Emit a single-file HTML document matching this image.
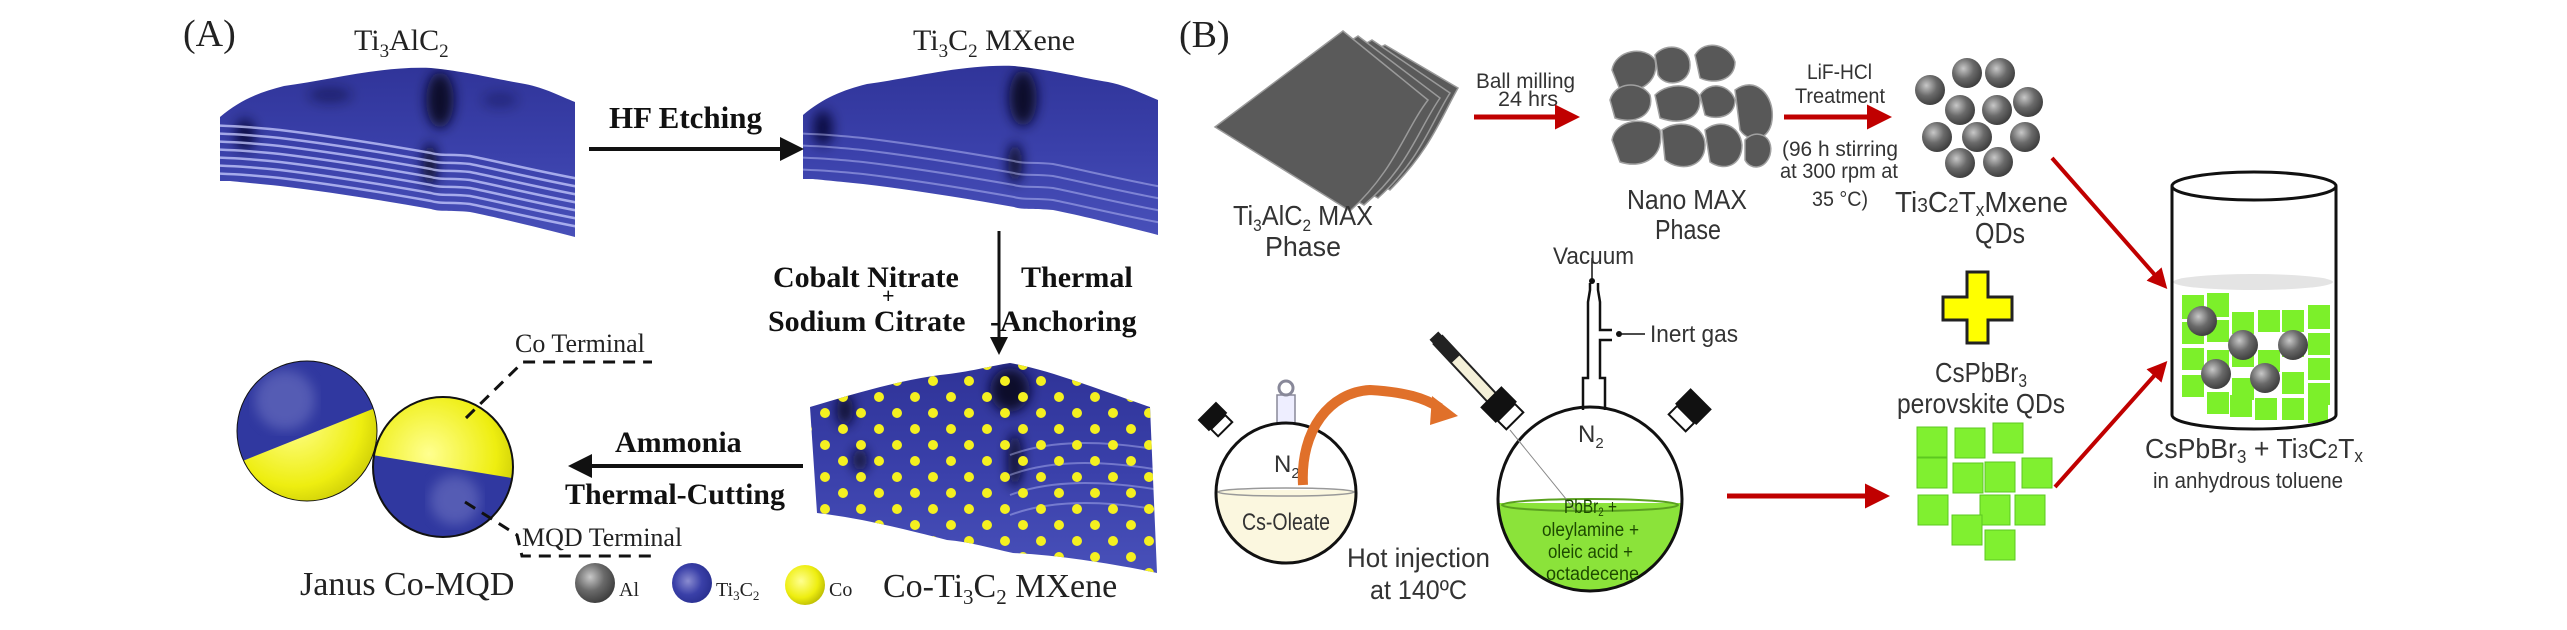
<!DOCTYPE html>
<html><head><meta charset="utf-8"><style>
html,body{margin:0;padding:0;background:#fff;}
svg{display:block}
.se{font-family:"Liberation Serif",serif;fill:#222}
.sb{font-family:"Liberation Serif",serif;font-weight:bold;fill:#111}
.sa{font-family:"Liberation Sans",sans-serif;fill:#333}
</style></head><body>
<svg width="2567" height="630" viewBox="0 0 2567 630" xmlns="http://www.w3.org/2000/svg">
<defs>
<linearGradient id="slab" x1="0" y1="0" x2="0" y2="1">
<stop offset="0" stop-color="#2e3296"/><stop offset="0.5" stop-color="#3a40aa"/><stop offset="1" stop-color="#4a52bb"/></linearGradient>
<filter id="blur"><feGaussianBlur stdDeviation="6"/></filter>
<radialGradient id="gray" cx="0.38" cy="0.35" r="0.7"><stop offset="0" stop-color="#c8c8c8"/><stop offset="0.5" stop-color="#6a6a6a"/><stop offset="1" stop-color="#3a3a3a"/></radialGradient>
<radialGradient id="blue" cx="0.4" cy="0.45" r="0.7"><stop offset="0" stop-color="#8a8cd0"/><stop offset="0.5" stop-color="#3a40a8"/><stop offset="1" stop-color="#232a88"/></radialGradient>
<radialGradient id="yel" cx="0.4" cy="0.4" r="0.7"><stop offset="0" stop-color="#ffff90"/><stop offset="0.6" stop-color="#eeee10"/><stop offset="1" stop-color="#b0b000"/></radialGradient>
<pattern id="dots" width="36" height="32" patternUnits="userSpaceOnUse" x="5" y="3">
<circle cx="10" cy="10" r="5" fill="#f4f020"/><circle cx="28" cy="26" r="5" fill="#f4f020"/></pattern>
<clipPath id="c1"><path id="p1" d="M220,117 C240,100 260,92 284,86 C330,80 380,66 431,68 C470,72 500,80 525,84 C545,88 560,96 575,102 L575,237 C540,228 500,218 470,212 C450,210 440,212 431,209 C380,200 330,192 280,186 C260,184 240,182 230,181 L220,181 Z"/></clipPath>
<clipPath id="c3"><path d="M810,407 C850,395 900,380 940,375 C970,372 990,366 1010,363 C1050,370 1100,390 1150,407 L1157,573 C1120,565 1060,555 1013,553 C990,548 970,542 947,540 C900,528 860,518 817,513 Z"/></clipPath>
<path id="bot" d="M200,181 C240,182 260,184 280,186 C330,192 380,200 431,209 C440,212 450,210 470,212 C500,218 540,228 590,237" fill="none"/>
<marker id="ah" markerWidth="6" markerHeight="6" refX="5" refY="3" orient="auto"><path d="M0,0 L6,3 L0,6 Z" fill="#111"/></marker>
<marker id="ar" markerWidth="5" markerHeight="5" refX="3" refY="2.5" orient="auto"><path d="M0,0 L5,2.5 L0,5 Z" fill="#c00000"/></marker>
</defs>

<!-- Panel A labels -->
<text x="183" y="46" class="se" font-size="38">(A)</text>
<text x="354" y="50" class="se" font-size="30">Ti<tspan font-size="19" dy="7">3</tspan><tspan dy="-7">AlC</tspan><tspan font-size="19" dy="7">2</tspan></text>
<text x="913" y="50" class="se" font-size="30">Ti<tspan font-size="19" dy="7">3</tspan><tspan dy="-7">C</tspan><tspan font-size="19" dy="7">2</tspan><tspan dy="-7"> MXene</tspan></text>

<!-- Slab 1 -->
<g clip-path="url(#c1)">
<rect x="200" y="50" width="400" height="200" fill="url(#slab)"/>
<g filter="url(#blur)" fill="#08082a">
<ellipse cx="245" cy="135" rx="10" ry="16" opacity="0.8"/><ellipse cx="440" cy="100" rx="14" ry="28"/><ellipse cx="430" cy="165" rx="7" ry="22"/><ellipse cx="330" cy="95" rx="22" ry="8" opacity="0.4"/><ellipse cx="500" cy="100" rx="18" ry="8" opacity="0.3"/>
</g>
<g stroke="#c8ccff" stroke-opacity="0.75" stroke-width="2.5">
<use href="#bot" transform="translate(0,-8)"/><use href="#bot" transform="translate(0,-16)"/><use href="#bot" transform="translate(0,-24)"/><use href="#bot" transform="translate(0,-32)"/><use href="#bot" transform="translate(0,-40)"/><use href="#bot" transform="translate(0,-48)"/><use href="#bot" transform="translate(0,-56)"/>
</g>
</g>
<!-- Slab 2 -->
<g transform="translate(583,-2)">
<g clip-path="url(#c1)">
<rect x="200" y="50" width="400" height="200" fill="url(#slab)"/>
<g filter="url(#blur)" fill="#08082a">
<ellipse cx="240" cy="130" rx="10" ry="18" opacity="0.8"/><ellipse cx="440" cy="100" rx="14" ry="28"/><ellipse cx="432" cy="165" rx="7" ry="20"/>
</g>
<g stroke="#c8ccff" stroke-opacity="0.45" stroke-width="2">
<use href="#bot" transform="translate(0,-10)"/><use href="#bot" transform="translate(0,-22)"/><use href="#bot" transform="translate(0,-34)"/><use href="#bot" transform="translate(0,-46)"/>
</g>
</g>
</g>

<!-- HF etching -->
<text x="609" y="128" class="sb" font-size="31">HF Etching</text>
<line x1="589" y1="149" x2="800" y2="149" stroke="#111" stroke-width="4" marker-end="url(#ah)"/>

<!-- vertical arrow -->
<line x1="999" y1="231" x2="999" y2="352" stroke="#111" stroke-width="3" marker-end="url(#ah)"/>
<text x="773" y="287" class="sb" font-size="30">Cobalt Nitrate</text>
<text x="1021" y="287" class="sb" font-size="30">Thermal</text>
<text x="882" y="303" class="sb" font-size="22">+</text>
<text x="768" y="331" class="sb" font-size="30">Sodium Citrate</text>
<text x="990" y="331" class="sb" font-size="30">-Anchoring</text>

<!-- Slab 3 -->
<g clip-path="url(#c3)">
<rect x="800" y="355" width="370" height="230" fill="url(#slab)"/>
<g filter="url(#blur)" fill="#08082a">
<ellipse cx="1010" cy="390" rx="20" ry="22"/><ellipse cx="1015" cy="460" rx="7" ry="28"/><ellipse cx="845" cy="410" rx="8" ry="16"/><ellipse cx="860" cy="460" rx="7" ry="12"/>
</g>
<g stroke="#c8ccff" stroke-opacity="0.4" stroke-width="2" fill="none">
<path d="M1010,455 C1050,440 1100,440 1160,450"/><path d="M1010,475 C1050,460 1100,460 1160,470"/><path d="M1010,495 C1050,480 1100,480 1160,490"/><path d="M1010,515 C1050,500 1100,500 1160,510"/>
</g>
<rect x="800" y="355" width="370" height="230" fill="url(#dots)"/>
</g>

<text x="615" y="452" class="sb" font-size="30">Ammonia</text>
<line x1="803" y1="466" x2="572" y2="466" stroke="#111" stroke-width="4" marker-end="url(#ah)"/>
<text x="565" y="504" class="sb" font-size="30">Thermal-Cutting</text>

<!-- Janus spheres -->
<clipPath id="s1"><circle cx="307" cy="431" r="70"/></clipPath>
<g clip-path="url(#s1)">
<rect x="230" y="355" width="160" height="160" fill="url(#yel)"/>
<polygon points="220,355 400,355 400,398 220,470" fill="#3038a0"/>
<circle cx="285" cy="400" r="30" fill="#7a80c8" opacity="0.5" filter="url(#blur)"/>
</g>
<circle cx="307" cy="431" r="70" fill="none" stroke="#111" stroke-width="1"/>
<clipPath id="s2"><circle cx="443" cy="467" r="70"/></clipPath>
<g clip-path="url(#s2)">
<rect x="365" y="390" width="160" height="160" fill="url(#yel)"/>
<polygon points="360,453 530,481 530,545 360,545" fill="#3038a0"/>
<circle cx="455" cy="500" r="25" fill="#7a80c8" opacity="0.5" filter="url(#blur)"/>
</g>
<circle cx="443" cy="467" r="70" fill="none" stroke="#111" stroke-width="2"/>

<path d="M466,418 L523,362 L652,362" fill="none" stroke="#111" stroke-width="3" stroke-dasharray="12,8"/>
<path d="M465,502 L517,535 L522,556 L652,556" fill="none" stroke="#111" stroke-width="3" stroke-dasharray="12,8"/>
<text x="515" y="352" class="se" font-size="26">Co Terminal</text>
<text x="522" y="546" class="se" font-size="26">MQD Terminal</text>
<text x="300" y="595" class="se" font-size="34">Janus Co-MQD</text>

<!-- legend -->
<circle cx="595" cy="583" r="20" fill="url(#gray)"/>
<text x="619" y="596" class="se" font-size="20">Al</text>
<circle cx="692" cy="583" r="20" fill="url(#blue)"/>
<text x="716" y="596" class="se" font-size="20">Ti<tspan font-size="13" dy="4">3</tspan><tspan dy="-4">C</tspan><tspan font-size="13" dy="4">2</tspan></text>
<circle cx="805" cy="585" r="20" fill="url(#yel)"/>
<text x="829" y="596" class="se" font-size="20">Co</text>
<text x="883" y="597" class="se" font-size="34">Co-Ti<tspan font-size="21" dy="7">3</tspan><tspan dy="-7">C</tspan><tspan font-size="21" dy="7">2</tspan><tspan dy="-7"> MXene</tspan></text>

<!-- Panel B -->
<text x="1179" y="47" class="se" font-size="38">(B)</text>
<!-- MAX sheets -->
<g fill="#5a5a5a" stroke="#9a9a9a" stroke-width="1.5">
<path d="M1385,45 L1458,88 C1440,120 1430,150 1390,190 L1250,110 Z"/>
<path d="M1372,40 L1450,93 C1430,125 1420,160 1378,198 L1232,118 Z"/>
<path d="M1358,36 L1440,98 C1418,130 1408,168 1364,205 L1222,123 Z"/>
<path d="M1343,31 L1428,100 C1405,130 1395,170 1350,211 L1215,127 Z"/>
</g>
<text x="1233" y="225" class="sa" font-size="28" textLength="140" lengthAdjust="spacingAndGlyphs">Ti<tspan font-size="17" dy="6">3</tspan><tspan dy="-6">AlC</tspan><tspan font-size="17" dy="6">2</tspan><tspan dy="-6"> MAX</tspan></text>
<text x="1265" y="256" class="sa" font-size="28" textLength="76" lengthAdjust="spacingAndGlyphs">Phase</text>
<text x="1476" y="88" class="sa" font-size="21" textLength="99" lengthAdjust="spacingAndGlyphs">Ball milling</text>
<text x="1498" y="106" class="sa" font-size="21" textLength="60" lengthAdjust="spacingAndGlyphs">24 hrs</text>
<line x1="1474" y1="117" x2="1570" y2="117" stroke="#c00000" stroke-width="5" marker-end="url(#ar)"/>
<!-- nano MAX -->
<g fill="#585858" stroke="#a0a0a0" stroke-width="1.5">
<path d="M1612,70 C1615,50 1645,45 1655,60 C1660,80 1640,95 1620,90 Z"/>
<path d="M1655,55 C1665,42 1690,45 1690,65 C1690,85 1665,88 1658,75 Z"/>
<path d="M1695,55 C1705,38 1730,45 1735,62 C1735,80 1715,85 1700,78 Z"/>
<path d="M1610,100 C1615,82 1640,80 1650,95 C1655,115 1635,125 1615,118 Z"/>
<path d="M1655,95 C1670,80 1700,85 1700,100 C1700,120 1680,125 1660,118 Z"/>
<path d="M1700,95 C1710,80 1730,85 1735,100 C1735,118 1715,120 1705,115 Z"/>
<path d="M1735,90 C1755,75 1775,95 1772,120 C1770,140 1750,145 1740,130 Z"/>
<path d="M1612,140 C1615,120 1645,115 1660,130 C1665,155 1645,170 1620,162 Z"/>
<path d="M1662,130 C1680,118 1705,125 1705,145 C1705,168 1680,172 1665,160 Z"/>
<path d="M1705,130 C1720,118 1740,125 1742,145 C1742,165 1725,172 1710,162 Z"/>
<path d="M1745,140 C1755,128 1775,135 1770,155 C1765,170 1750,170 1745,160 Z"/>
</g>
<text x="1627" y="209" class="sa" font-size="28" textLength="120" lengthAdjust="spacingAndGlyphs">Nano MAX</text>
<text x="1655" y="239" class="sa" font-size="28" textLength="66" lengthAdjust="spacingAndGlyphs">Phase</text>
<text x="1807" y="79" class="sa" font-size="21" textLength="65" lengthAdjust="spacingAndGlyphs">LiF-HCl</text>
<text x="1795" y="103" class="sa" font-size="21" textLength="90" lengthAdjust="spacingAndGlyphs">Treatment</text>
<line x1="1784" y1="117" x2="1882" y2="117" stroke="#c00000" stroke-width="5" marker-end="url(#ar)"/>
<text x="1782" y="156" class="sa" font-size="21" textLength="116" lengthAdjust="spacingAndGlyphs">(96 h stirring</text>
<text x="1780" y="178" class="sa" font-size="21" textLength="118" lengthAdjust="spacingAndGlyphs">at 300 rpm at</text>
<text x="1812" y="206" class="sa" font-size="21" textLength="56" lengthAdjust="spacingAndGlyphs">35 °C)</text>
<g fill="url(#gray)">
<circle cx="1967" cy="73" r="15"/><circle cx="2000" cy="73" r="15"/><circle cx="1930" cy="90" r="15"/><circle cx="1960" cy="110" r="15"/><circle cx="1997" cy="110" r="15"/><circle cx="2028" cy="102" r="15"/><circle cx="1937" cy="137" r="15"/><circle cx="1977" cy="137" r="15"/><circle cx="2025" cy="137" r="15"/><circle cx="1960" cy="163" r="15"/><circle cx="1998" cy="162" r="15"/>
</g>
<text x="1895" y="212" class="sa" font-size="29" textLength="173" lengthAdjust="spacingAndGlyphs">Ti<tspan font-size="20">3</tspan>C<tspan font-size="20">2</tspan>T<tspan font-size="18" dy="4">x</tspan><tspan dy="-4">Mxene</tspan></text>
<text x="1975" y="243" class="sa" font-size="29" textLength="50" lengthAdjust="spacingAndGlyphs">QDs</text>

<line x1="2052" y1="158" x2="2162" y2="283" stroke="#c00000" stroke-width="4" marker-end="url(#ar)"/>
<line x1="2055" y1="487" x2="2162" y2="367" stroke="#c00000" stroke-width="4" marker-end="url(#ar)"/>

<!-- beaker -->
<ellipse cx="2253" cy="282" rx="80" ry="8" fill="#e4e4e4"/>
<g fill="#7cf02a">
<rect x="2182" y="295" width="22" height="24"/><rect x="2207" y="293" width="22" height="24"/><rect x="2232" y="312" width="22" height="22"/><rect x="2258" y="310" width="22" height="22"/><rect x="2282" y="310" width="22" height="22"/><rect x="2308" y="305" width="22" height="24"/>
<rect x="2182" y="322" width="22" height="22"/><rect x="2207" y="320" width="22" height="22"/><rect x="2282" y="335" width="22" height="22"/><rect x="2308" y="333" width="22" height="22"/>
<rect x="2182" y="348" width="22" height="22"/><rect x="2207" y="350" width="22" height="22"/><rect x="2232" y="345" width="22" height="22"/><rect x="2258" y="350" width="22" height="22"/><rect x="2308" y="358" width="22" height="22"/>
<rect x="2182" y="375" width="22" height="22"/><rect x="2232" y="378" width="22" height="22"/><rect x="2282" y="372" width="22" height="22"/><rect x="2308" y="383" width="22" height="22"/>
<rect x="2207" y="392" width="22" height="22"/><rect x="2230" y="395" width="22" height="22"/><rect x="2255" y="398" width="22" height="22"/><rect x="2282" y="398" width="22" height="22"/><rect x="2308" y="405" width="20" height="18"/>
</g>
<g fill="url(#gray)">
<circle cx="2202" cy="321" r="15"/><circle cx="2243" cy="345" r="15"/><circle cx="2293" cy="345" r="15"/><circle cx="2216" cy="374" r="15"/><circle cx="2265" cy="378" r="15"/>
</g>
<path d="M2172,186 L2172,415 A82,14 0 0 0 2336,415 L2336,186" fill="none" stroke="#111" stroke-width="3"/>
<ellipse cx="2254" cy="186" rx="82" ry="14" fill="#fff" stroke="#111" stroke-width="3"/>
<text x="2145" y="458" class="sa" font-size="28" textLength="218" lengthAdjust="spacingAndGlyphs">CsPbBr<tspan font-size="18" dy="5">3</tspan><tspan dy="-5"> + Ti</tspan><tspan font-size="20">3</tspan>C<tspan font-size="20">2</tspan>T<tspan font-size="18" dy="4">x</tspan></text>
<text x="2153" y="488" class="sa" font-size="22" textLength="190" lengthAdjust="spacingAndGlyphs">in anhydrous toluene</text>

<!-- plus -->
<path d="M1967,272 L1988,272 L1988,297 L2012,297 L2012,320 L1988,320 L1988,343 L1967,343 L1967,320 L1943,320 L1943,297 L1967,297 Z" fill="#ffff00" stroke="#222" stroke-width="3"/>
<text x="1935" y="382" class="sa" font-size="28" textLength="92" lengthAdjust="spacingAndGlyphs">CsPbBr<tspan font-size="18" dy="5">3</tspan></text>
<text x="1897" y="413" class="sa" font-size="28" textLength="168" lengthAdjust="spacingAndGlyphs">perovskite QDs</text>
<g fill="#80f030" stroke="#5cc820" stroke-width="1">
<rect x="1917" y="427" width="30" height="30"/><rect x="1955" y="428" width="30" height="30"/><rect x="1993" y="423" width="30" height="30"/>
<rect x="1917" y="458" width="30" height="30"/><rect x="1953" y="463" width="30" height="30"/><rect x="1985" y="462" width="30" height="30"/><rect x="2022" y="458" width="30" height="30"/>
<rect x="1918" y="495" width="30" height="30"/><rect x="1980" y="495" width="30" height="30"/><rect x="2015" y="495" width="30" height="30"/>
<rect x="1952" y="515" width="30" height="30"/><rect x="1985" y="530" width="30" height="30"/>
</g>
<line x1="1727" y1="496" x2="1880" y2="496" stroke="#c00000" stroke-width="5" marker-end="url(#ar)"/>

<!-- left flask -->
<clipPath id="f1"><circle cx="1286" cy="493" r="70"/></clipPath>
<rect x="1210" y="490" width="160" height="80" fill="#fbf7df" clip-path="url(#f1)"/>
<ellipse cx="1286" cy="492" rx="68" ry="4" fill="none" stroke="#999" stroke-width="1.5"/>
<rect x="1277" y="395" width="18" height="28" fill="#eef" stroke="#889" stroke-width="1.5"/>
<circle cx="1286" cy="388" r="7" fill="none" stroke="#889" stroke-width="3"/>
<circle cx="1286" cy="493" r="70" fill="none" stroke="#111" stroke-width="3"/>
<g transform="rotate(-45 1228 432)"><rect x="1218" y="418" width="20" height="10" fill="#fff" stroke="#111" stroke-width="2"/><rect x="1215" y="402" width="26" height="16" fill="#111"/></g>
<text x="1274" y="472" class="sa" font-size="24">N<tspan font-size="15" dy="6">2</tspan></text>
<text x="1242" y="530" class="sa" font-size="24" textLength="88" lengthAdjust="spacingAndGlyphs">Cs-Oleate</text>
<!-- orange arrow -->
<path d="M1303,485 C1300,430 1330,392 1370,390 C1405,392 1425,398 1440,408" fill="none" stroke="#e0702a" stroke-width="10"/>
<polygon points="1432,396 1458,416 1430,425" fill="#e0702a"/>
<!-- syringe -->
<g transform="rotate(47 1438 340)"><rect x="1438" y="334" width="92" height="12" fill="#f4f0d8" stroke="#222" stroke-width="2"/><rect x="1432" y="334" width="32" height="12" fill="#222"/></g>
<!-- right flask -->
<clipPath id="f2"><circle cx="1590" cy="499" r="92"/></clipPath>
<rect x="1490" y="503" width="200" height="100" fill="#8be33a" clip-path="url(#f2)"/>
<ellipse cx="1590" cy="505" rx="88" ry="6" fill="none" stroke="#5aa020" stroke-width="2"/>
<path d="M1583,410 L1583,378 L1588,378 L1588,302 L1590,290 L1590,283 M1605,410 L1605,378 L1600,378 L1600,340 L1612,340 M1600,330 L1612,330 L1600,330 L1600,302 L1598,290 L1598,283" fill="none" stroke="#111" stroke-width="2.5"/>
<circle cx="1592" cy="281" r="3" fill="#111"/>
<line x1="1592" y1="258" x2="1592" y2="280" stroke="#111" stroke-width="1.5"/>
<line x1="1618" y1="334" x2="1645" y2="334" stroke="#111" stroke-width="1.5"/>
<circle cx="1619" cy="334" r="3" fill="#111"/>
<circle cx="1590" cy="499" r="92" fill="none" stroke="#111" stroke-width="3"/>
<line x1="1510" y1="430" x2="1575" y2="510" stroke="#888" stroke-width="1"/>
<g transform="rotate(-45 1512 418)"><rect x="1500" y="410" width="24" height="12" fill="#fff" stroke="#111" stroke-width="2"/><rect x="1497" y="388" width="30" height="22" fill="#111"/></g>
<g transform="rotate(45 1680 420)"><rect x="1668" y="412" width="24" height="12" fill="#fff" stroke="#111" stroke-width="2"/><rect x="1665" y="390" width="30" height="22" fill="#111"/></g>
<text x="1553" y="264" class="sa" font-size="24" textLength="81" lengthAdjust="spacingAndGlyphs">Vacuum</text>
<text x="1650" y="342" class="sa" font-size="24" textLength="88" lengthAdjust="spacingAndGlyphs">Inert gas</text>
<text x="1578" y="442" class="sa" font-size="24">N<tspan font-size="15" dy="6">2</tspan></text>
<g class="sa" font-size="19" style="fill:#1d4a00">
<text x="1564" y="513" textLength="53" lengthAdjust="spacingAndGlyphs">PbBr<tspan font-size="12" dy="3">2</tspan><tspan dy="-3"> +</tspan></text>
<text x="1542" y="536" textLength="97" lengthAdjust="spacingAndGlyphs">oleylamine +</text>
<text x="1548" y="558" textLength="85" lengthAdjust="spacingAndGlyphs">oleic acid +</text>
<text x="1546" y="580" textLength="93" lengthAdjust="spacingAndGlyphs">octadecene</text>
</g>
<text x="1347" y="567" class="sa" font-size="27" textLength="143" lengthAdjust="spacingAndGlyphs">Hot injection</text>
<text x="1370" y="599" class="sa" font-size="27" textLength="97" lengthAdjust="spacingAndGlyphs">at 140ºC</text>
</svg>
</body></html>
